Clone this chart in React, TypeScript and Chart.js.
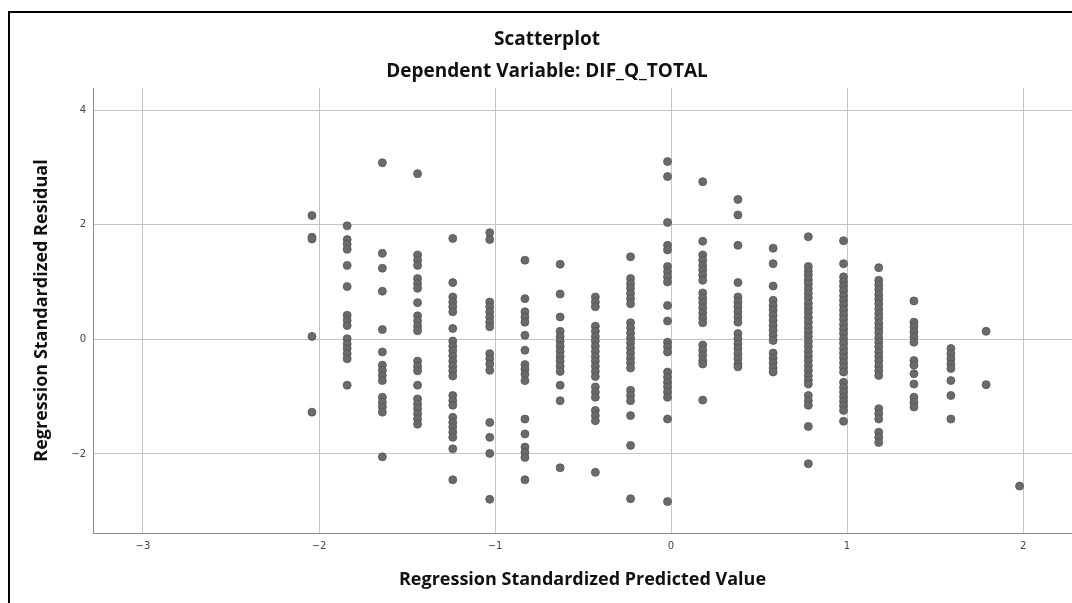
import React, { useEffect, useRef } from "react";
import { Chart, registerables } from "chart.js";

Chart.register(...registerables);

const chartTitle = "Scatterplot";
const chartSubtitle = "Dependent Variable: DIF_Q_TOTAL";
const xAxisTitle = "Regression Standardized Predicted Value";
const yAxisTitle = "Regression Standardized Residual";

// predicted value of each column of points
const predictedColumns = [
  -2.04, -1.84, -1.64, -1.44, -1.24, -1.03, -0.83, -0.63, -0.43, -0.23, -0.02,
  0.18, 0.38, 0.58, 0.78, 0.98, 1.18, 1.38, 1.59, 1.79, 1.98,
];

// residuals read for each column
const res_m204 = [2.16, 1.78, 1.75, 0.05, -1.27];
const res_m184 = [1.98, 1.74, 1.66, 1.57, 1.29, 0.92, 0.42, 0.33, 0.24, 0.01, -0.08, -0.16, -0.25, -0.34, -0.8];
const res_m164 = [3.08, 1.5, 1.24, 0.84, 0.17, -0.22, -0.45, -0.54, -0.63, -0.72, -1.01, -1.1, -1.18, -1.27, -2.05];
const res_m144 = [2.89, 1.47, 1.38, 1.29, 1.06, 0.97, 0.89, 0.64, 0.41, 0.32, 0.23, 0.15, -0.38, -0.47, -0.55, -0.8, -1.04, -1.13, -1.21, -1.3, -1.39, -1.48];
const res_m124 = [1.76, 0.99, 0.74, 0.65, 0.57, 0.48, 0.19, -0.03, -0.12, -0.2, -0.29, -0.38, -0.47, -0.55, -0.64, -0.98, -1.07, -1.15, -1.36, -1.45, -1.53, -1.62, -1.71, -1.91, -2.45];
const res_m103 = [1.86, 1.74, 0.65, 0.57, 0.48, 0.39, 0.3, 0.22, -0.25, -0.34, -0.43, -0.54, -1.45, -1.71, -1.99, -2.79];
const res_m083 = [1.38, 0.71, 0.48, 0.39, 0.3, 0.07, -0.19, -0.44, -0.52, -0.61, -0.72, -1.39, -1.65, -1.88, -1.97, -2.06, -2.45];
const res_m063 = [1.31, 0.79, 0.39, 0.14, 0.05, -0.03, -0.12, -0.21, -0.3, -0.38, -0.47, -0.56, -0.8, -1.07, -2.24];
const res_m043 = [0.74, 0.65, 0.57, 0.23, 0.14, 0.05, -0.03, -0.12, -0.21, -0.3, -0.38, -0.47, -0.56, -0.65, -0.83, -0.92, -1.01, -1.24, -1.33, -1.42, -2.32];
const res_m023 = [1.44, 1.06, 0.97, 0.89, 0.8, 0.71, 0.62, 0.29, 0.2, 0.11, 0.02, -0.06, -0.15, -0.24, -0.33, -0.41, -0.5, -0.89, -0.98, -1.07, -1.33, -1.85, -2.78];
const res_m002 = [3.1, 2.84, 2.04, 1.64, 1.56, 1.27, 1.18, 1.09, 1.0, 0.59, 0.32, -0.05, -0.13, -0.22, -0.57, -0.66, -0.75, -0.83, -0.92, -1.01, -1.39, -2.83];
const res_p018 = [2.75, 1.71, 1.47, 1.38, 1.29, 1.21, 1.12, 1.03, 0.81, 0.72, 0.64, 0.55, 0.46, 0.37, 0.29, -0.1, -0.19, -0.28, -0.37, -0.43, -1.06];
const res_p038 = [2.44, 2.17, 1.64, 0.99, 0.74, 0.65, 0.57, 0.48, 0.39, 0.3, 0.1, 0.01, -0.08, -0.16, -0.25, -0.34, -0.43, -0.48];
const res_p058 = [1.59, 1.32, 0.93, 0.68, 0.59, 0.51, 0.42, 0.33, 0.24, 0.16, 0.07, -0.02, -0.24, -0.33, -0.41, -0.5, -0.57];
const res_p078 = [1.79, 1.27, 1.19, 1.12, 1.04, 0.97, 0.88, 0.8, 0.72, 0.63, 0.55, 0.47, 0.38, 0.3, 0.21, 0.13, 0.05, -0.04, -0.12, -0.21, -0.29, -0.37, -0.46, -0.54, -0.63, -0.71, -0.78, -0.98, -1.07, -1.15, -1.52, -2.17];
const res_p098 = [1.72, 1.32, 1.09, 1.01, 0.93, 0.85, 0.76, 0.68, 0.6, 0.51, 0.43, 0.35, 0.26, 0.18, 0.1, 0.01, -0.07, -0.16, -0.24, -0.32, -0.41, -0.49, -0.57, -0.75, -0.84, -0.92, -1.0, -1.08, -1.16, -1.24, -1.43];
const res_p118 = [1.25, 1.03, 0.95, 0.87, 0.78, 0.7, 0.62, 0.53, 0.45, 0.37, 0.28, 0.2, 0.12, 0.03, -0.05, -0.13, -0.22, -0.3, -0.38, -0.47, -0.55, -0.63, -1.21, -1.3, -1.39, -1.62, -1.71, -1.8];
const res_p138 = [0.67, 0.3, 0.22, 0.13, 0.04, -0.05, -0.37, -0.45, -0.6, -0.78, -1.01, -1.1, -1.18];
const res_p159 = [-0.16, -0.25, -0.34, -0.43, -0.51, -0.72, -0.98, -1.39];
const res_p179 = [0.14, -0.79];
const res_p198 = [-2.56];

const residualColumns = [
  res_m204, res_m184, res_m164, res_m144, res_m124, res_m103, res_m083, res_m063,
  res_m043, res_m023, res_m002, res_p018, res_p038, res_p058, res_p078, res_p098,
  res_p118, res_p138, res_p159, res_p179, res_p198,
];

const xTicks = [-3, -2, -1, 0, 1, 2];
const yTicks = [-2, 0, 2, 4];

const fmt = (v: number) => (v < 0 ? "\u2212" + Math.abs(v) : String(v));

export default function App() {
  const ref = useRef<HTMLCanvasElement>(null);

  useEffect(() => {
    if (!ref.current) return;
    const points: { x: number; y: number }[] = [];
    predictedColumns.forEach((x, i) => {
      residualColumns[i].forEach((y) => points.push({ x, y }));
    });

    const titleFont = { family: "'Open Sans', sans-serif", size: 19, weight: "bold" as const, lineHeight: 1.2 };
    const axisFont = { family: "'Open Sans', sans-serif", size: 18, weight: "bold" as const, lineHeight: 1.2 };
    const tickFont = { family: "'DejaVu Sans', sans-serif", size: 10 };

    const chart = new Chart(ref.current, {
      type: "scatter",
      data: {
        datasets: [
          {
            data: points,
            pointRadius: 4,
            pointHoverRadius: 4,
            backgroundColor: "#6a6a6a",
            borderColor: "#555555",
            borderWidth: 0.8,
          },
        ],
      },
      options: {
        responsive: false,
        animation: false,
        layout: { autoPadding: false, padding: { left: 22, right: 0, top: 0, bottom: 0 } },
        plugins: {
          legend: { display: false },
          tooltip: { enabled: false },
          title: {
            display: true,
            text: chartTitle,
            color: "#111",
            font: titleFont,
            padding: { top: 28.6, bottom: 0 },
          },
          subtitle: {
            display: true,
            text: chartSubtitle,
            color: "#111",
            font: titleFont,
            padding: { top: 9.2, bottom: 4.6 },
          },
        },
        scales: {
          x: {
            type: "linear",
            min: -3.284,
            max: 2.278,
            afterFit: (s: any) => {
              s.height = 70;
              s.paddingLeft = 0;
              s.paddingRight = 0;
            },
            afterBuildTicks: (s: any) => {
              s.ticks = xTicks.map((v) => ({ value: v }));
            },
            ticks: {
              includeBounds: false,
              padding: 7,
              color: "#444",
              font: tickFont,
              callback: (v: any) => fmt(Number(v)),
            },
            grid: { color: "#c4c4c4", lineWidth: 1, drawTicks: false },
            border: { color: "#8c8c8c", width: 1 },
            title: {
              display: true,
              text: xAxisTitle,
              color: "#111",
              font: axisFont,
              padding: { top: 0, bottom: 12 },
            },
          },
          y: {
            type: "linear",
            min: -3.378,
            max: 4.384,
            afterFit: (s: any) => {
              s.width = 71;
              s.paddingTop = 0;
              s.paddingBottom = 0;
            },
            afterBuildTicks: (s: any) => {
              s.ticks = yTicks.map((v) => ({ value: v }));
            },
            ticks: {
              includeBounds: false,
              padding: 7,
              color: "#444",
              font: tickFont,
              callback: (v: any) => fmt(Number(v)),
            },
            grid: { color: "#c4c4c4", lineWidth: 1, drawTicks: false },
            border: { color: "#8c8c8c", width: 1 },
            title: {
              display: true,
              text: yAxisTitle,
              color: "#111",
              font: axisFont,
              padding: { top: 9.2, bottom: 0 },
            },
          },
        },
      },
    });
    return () => chart.destroy();
  }, []);

  return (
    <div style={{ position: "fixed", left: 0, top: 0, width: 1072, height: 603, background: "#fff", overflow: "hidden" }}>
      <canvas ref={ref} width={1072} height={603} style={{ position: "absolute", left: 0, top: 0, display: "block" }} />
      <div
        style={{
          position: "absolute",
          left: 8,
          top: 11,
          width: 1100,
          height: 620,
          borderLeft: "2px solid #000",
          borderTop: "2px solid #000",
          pointerEvents: "none",
        }}
      />
    </div>
  );
}
